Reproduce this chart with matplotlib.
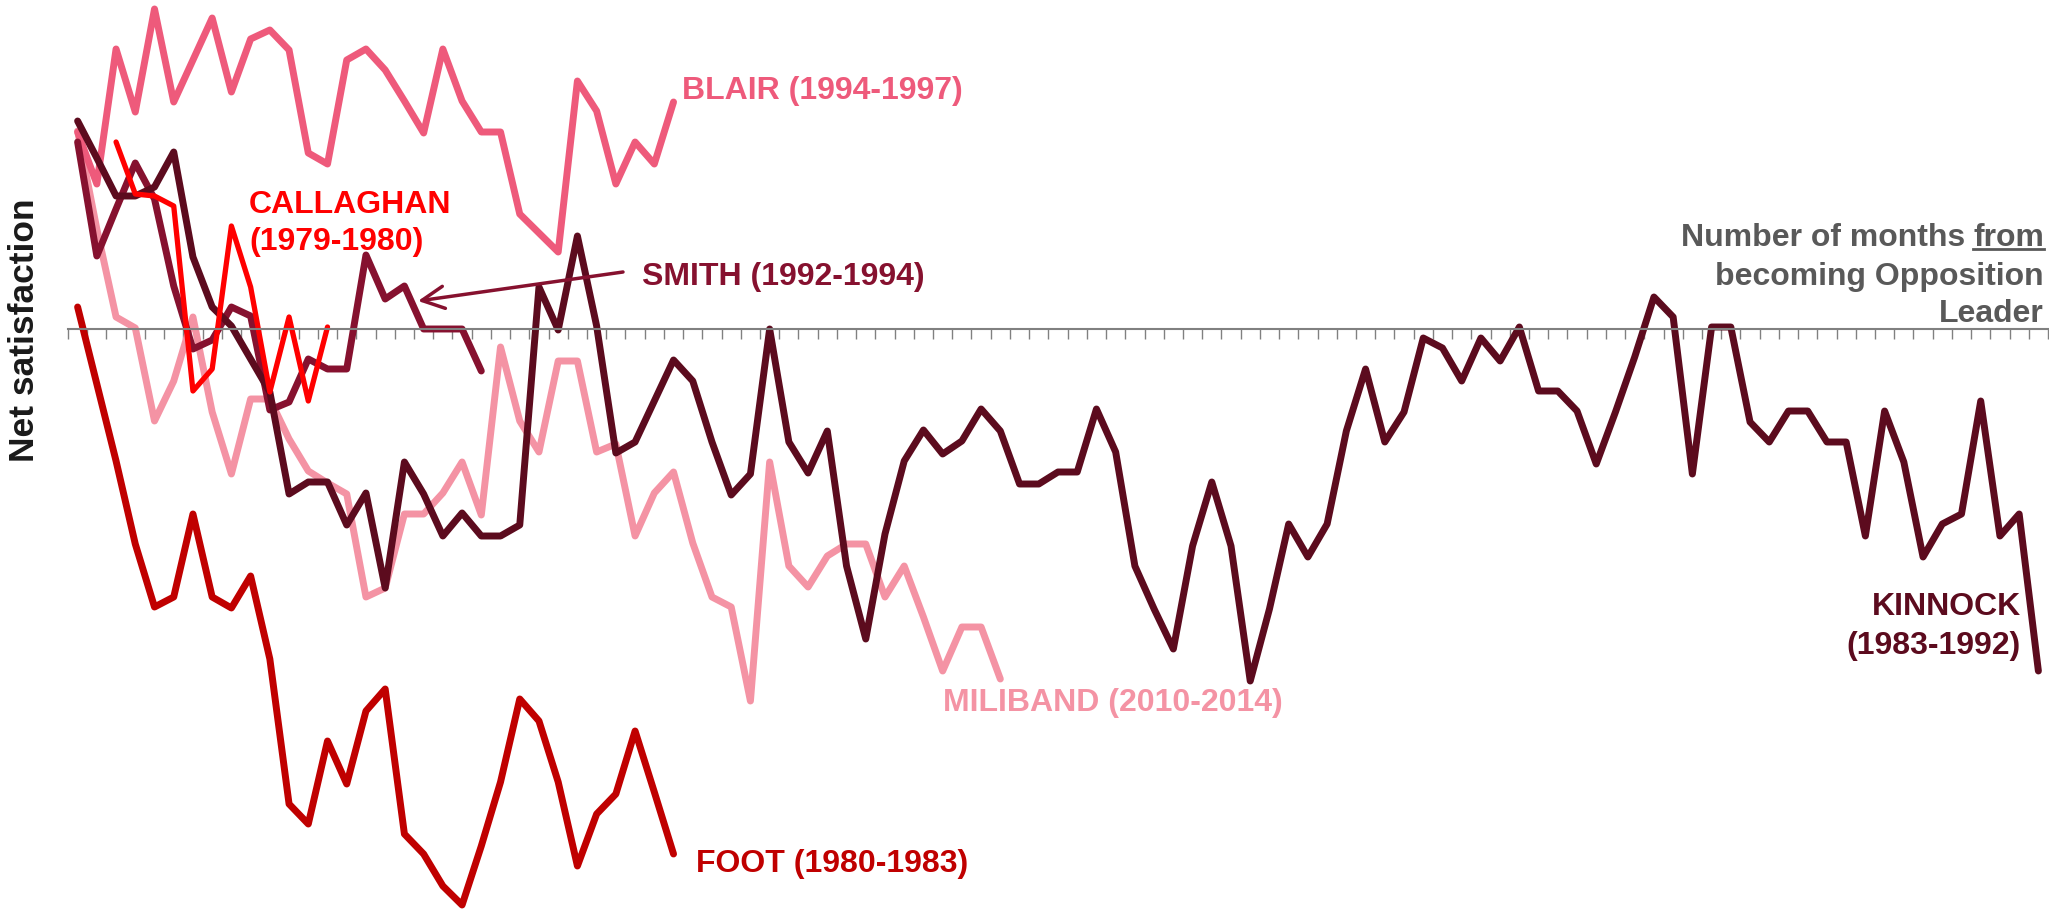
import numpy as np
import matplotlib
matplotlib.use('Agg')
import matplotlib.pyplot as plt
from matplotlib.lines import Line2D

plt.rcParams['font.family'] = ['Liberation Sans', 'DejaVu Sans']

# Net satisfaction by month since becoming Opposition Leader
n_months = 103

kinnock = [20.8, 17.1, 13.3, 13.3, 14.2, 17.7, 7.2, 2.2, 0.3, -3.0,
           -6.3, -16.5, -15.3, -15.3, -19.6, -16.4, -25.9, -13.3, -16.5, -20.7,
           -18.4, -20.7, -20.7, -19.6, 4.2, -0.1, 9.3, 0.3, -12.4, -11.3,
           -7.2, -3.1, -5.2, -11.3, -16.6, -14.5, 0.0, -11.3, -14.4, -10.2,
           -23.7, -31.0, -20.5, -13.2, -10.1, -12.5, -11.2, -8.0, -10.2, -15.5,
           -15.5, -14.3, -14.3, -8.0, -12.3, -23.7, -28.0, -32.0, -21.7, -15.3,
           -21.7, -35.2, -28.0, -19.5, -22.8, -19.5, -10.2, -4.0, -11.3, -8.3,
           -0.9, -1.9, -5.2, -0.9, -3.2, 0.2, -6.2, -6.2, -8.2, -13.5,
           -8.3, -2.8, 3.2, 1.2, -14.5, 0.2, 0.2, -9.3, -11.3, -8.2,
           -8.2, -11.3, -11.3, -20.7, -8.2, -13.3, -22.8, -19.5, -18.5, -7.2,
           -20.7, -18.5, -34.2]

smith = [18.7, 7.3, 12.0, 16.6, 13.0, 4.3, -2.0, -1.1, 2.2, 1.3,
         -8.1, -7.3, -3.0, -4.0, -4.0, 7.4, 3.0, 4.3, 0.0, 0.0,
         0.0, -4.2]

callaghan = [None, None, 18.7, 13.5, 13.3, 12.3, -6.2, -4.0, 10.3, 4.2,
             -6.3, 1.2, -7.2, 0.2]

blair = [19.7, 14.5, 28.0, 21.7, 32.0, 22.7, 26.9, 31.1, 23.7, 29.0,
         29.9, 27.9, 17.6, 16.5, 26.9, 28.0, 25.9, 22.8, 19.6, 28.0,
         22.8, 19.7, 19.7, 11.5, 9.6, 7.7, 24.8, 21.8, 14.5, 18.7,
         16.5, 22.7]

miliband = [19.8, 10.0, 1.2, 0.1, -9.2, -5.2, 1.2, -8.3, -14.5, -7.0,
            -7.0, -11.0, -14.2, -15.4, -16.5, -26.8, -25.9, -18.5, -18.5, -16.4,
            -13.3, -18.6, -1.8, -9.2, -12.3, -3.2, -3.2, -12.3, -11.5, -20.7,
            -16.4, -14.3, -21.4, -26.8, -27.8, -37.2, -13.3, -23.7, -25.8, -22.7,
            -21.5, -21.5, -26.8, -23.7, -28.8, -34.2, -29.8, -29.8, -35.0]

foot = [2.2, -5.5, -13.2, -21.5, -27.8, -26.8, -18.5, -26.8, -27.9, -24.7,
        -33.0, -47.5, -49.5, -41.2, -45.5, -38.2, -36.0, -50.5, -52.5, -55.7,
        -57.6, -51.7, -45.3, -37.0, -39.2, -45.3, -53.7, -48.5, -46.5, -40.2,
        -46.3, -52.5]

c_kinnock = '#5C0B1E'
c_smith = '#86112F'
c_callaghan = '#FF0000'
c_blair = '#EE5A7B'
c_miliband = '#F493A4'
c_foot = '#C00000'
c_grey = '#595959'

W, H = 2049, 912
fig = plt.figure(figsize=(W / 100, H / 100), dpi=100)
ax = fig.add_axes([68 / W, 0, 1980 / W, 1])


def fx(x):
    return x / W


def fy(y):
    return 1 - y / H


def draw(vals, color, lw=5.0):
    v = np.array(vals, dtype=float)
    ax.plot(np.arange(len(v)), v, color=color, lw=lw,
            solid_joinstyle='round', solid_capstyle='round', clip_on=False)


draw(miliband, c_miliband)
draw(blair, c_blair)
draw(smith, c_smith)
draw(kinnock, c_kinnock)
draw(foot, c_foot)
draw(callaghan, c_callaghan, lw=3.8)

ax.set_xlim(-0.5, n_months - 0.5)
ax.set_ylim(-58.2, 33.0)
for s in ('left', 'right', 'top'):
    ax.spines[s].set_visible(False)
ax.spines['bottom'].set_position(('data', 0))
ax.spines['bottom'].set_color('#808080')
ax.spines['bottom'].set_linewidth(1.5)
ax.set_xticks(np.arange(-0.5, n_months, 1))
ax.set_xticklabels([])
ax.set_yticks([])
ax.tick_params(axis='x', direction='out', length=7.5, width=1, color='#808080')
ax.patch.set_alpha(0)

lab = dict(fontsize=23, fontweight='bold', va='baseline')
fig.text(fx(682), fy(99), 'BLAIR (1994-1997)', color=c_blair, ha='left', **lab)
fig.text(fx(249), fy(213), 'CALLAGHAN', color=c_callaghan, ha='left', **lab)
fig.text(fx(249), fy(250), '(1979-1980)', color=c_callaghan, ha='left', **lab)
fig.text(fx(642), fy(285), 'SMITH (1992-1994)', color=c_smith, ha='left', **lab)
fig.text(fx(943), fy(711), 'MILIBAND (2010-2014)', color=c_miliband, ha='left', **lab)
fig.text(fx(696), fy(872), 'FOOT (1980-1983)', color=c_foot, ha='left', **lab)
fig.text(fx(2021), fy(615), 'KINNOCK', color=c_kinnock, ha='right', **lab)
fig.text(fx(2021), fy(654), '(1983-1992)', color=c_kinnock, ha='right', **lab)

# axis note, with "from" underlined
renderer = fig.canvas.get_renderer()
t_from = fig.text(fx(2044), fy(246), 'from', color=c_grey, ha='right', **lab)
bb = t_from.get_window_extent(renderer)
fig.text(fx(bb.x0 - 8), fy(246), 'Number of months', color=c_grey, ha='right', **lab)
fig.add_artist(Line2D([fx(bb.x0), fx(bb.x1)], [fy(250), fy(250)],
                      transform=fig.transFigure, color=c_grey, lw=2))
fig.text(fx(2044), fy(285), 'becoming Opposition', color=c_grey, ha='right', **lab)
fig.text(fx(2044), fy(322), 'Leader', color=c_grey, ha='right', **lab)

fig.text(fx(25), fy(330), 'Net satisfaction', rotation=90, fontsize=25.5,
         fontweight='bold', color='#1A1A1A', ha='center', va='center')

# arrow pointing at Smith's line
ax.annotate('', xy=(fx(418), fy(302)), xycoords='figure fraction',
            xytext=(fx(623), fy(273)), textcoords='figure fraction',
            arrowprops=dict(arrowstyle='->,head_length=1.0,head_width=0.5',
                            color=c_smith, lw=2.5, mutation_scale=16,
                            shrinkA=0, shrinkB=0))

fig.savefig('out.png', dpi=100, facecolor='white')
